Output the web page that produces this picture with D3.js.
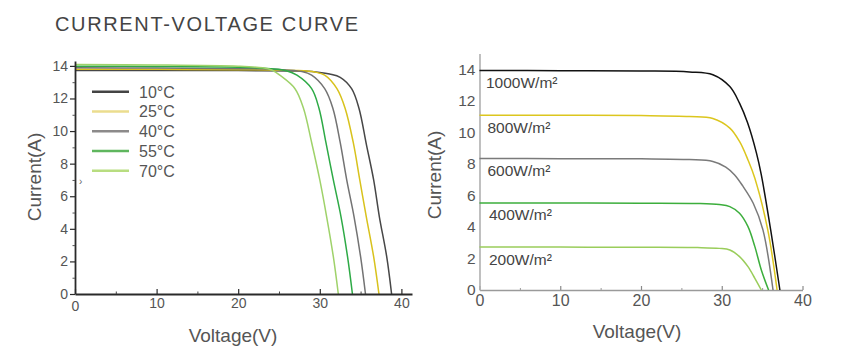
<!DOCTYPE html>
<html><head><meta charset="utf-8">
<script src="https://cdn.jsdelivr.net/npm/d3@7/dist/d3.min.js"></script>
<style>
body{margin:0;background:#fff}
svg{display:block}
text{font-family:"Liberation Sans",Arial,Helvetica,sans-serif}
</style>
</head><body>
<svg id="chart" width="843" height="348"></svg>
<script>
// ---------- DATA ----------
const titleText = "CURRENT-VOLTAGE CURVE";

// Left chart: temperature series, [Voltage V, Current A]
const tempNames = ["10°C", "25°C", "40°C", "55°C", "70°C"];
const temp10 = [[0,13.72],[10,13.72],[20,13.71],[28,13.68],[30,13.6],[31.2,13.5],[32.5,13.3],[33.9,12.6],[34.8,11.4],[35.7,9.2],[36.6,7.0],[37.3,4.74],[38.2,2.29],[38.8,0]];
const temp25 = [[0,13.8],[10,13.79],[20,13.77],[27,13.72],[29.4,13.62],[30.6,13.43],[32.1,12.6],[33.1,11.4],[34.1,9.3],[34.9,7.0],[35.7,4.74],[36.6,2.29],[37.25,0]];
const temp40 = [[0,13.88],[10,13.87],[20,13.83],[25,13.78],[27.8,13.65],[29.0,13.43],[30.6,12.6],[31.6,11.4],[32.5,9.3],[33.3,7.0],[34.2,4.74],[35.0,2.29],[35.6,0]];
const temp55 = [[0,13.98],[10,13.97],[20,13.92],[24,13.82],[25.9,13.7],[27.2,13.43],[29.0,12.6],[29.9,11.4],[30.75,9.3],[31.66,7.0],[32.6,4.74],[33.4,2.29],[34.0,0]];
const temp70 = [[0,14.08],[10,14.06],[20,13.98],[23,13.88],[24.1,13.75],[25.1,13.43],[26.96,12.6],[28.0,11.4],[29.0,9.3],[30.0,7.0],[30.84,4.74],[31.66,2.29],[32.27,0]];
const tempSeries = [temp10, temp25, temp40, temp55, temp70];

// Right chart: irradiance series, [Voltage V, Current A]
const irrNames = ["1000W/m²", "800W/m²", "600W/m²", "400W/m²", "200W/m²"];
const irr1000 = [[0,13.92],[10,13.91],[20,13.89],[26,13.83],[28.9,13.65],[31,12.9],[32.2,11.85],[33.2,10.6],[34.3,8.68],[34.9,7.3],[36.06,3.81],[37.2,0]];
const irr800 = [[0,11.09],[10,11.08],[20,11.06],[26,11.0],[28.9,10.88],[31,10.27],[32.2,9.42],[33.25,8.25],[34.1,7.09],[35.7,3.81],[36.85,0]];
const irr600 = [[0,8.34],[10,8.33],[20,8.32],[26,8.27],[28.9,8.15],[30.5,7.8],[31.6,7.3],[32.6,6.6],[33.9,5.5],[35.1,3.81],[36.35,0]];
const irr400 = [[0,5.52],[10,5.52],[20,5.51],[27,5.49],[29.7,5.42],[31,5.29],[32.2,4.87],[33.25,4.02],[34.1,2.75],[34.9,1.27],[35.8,0]];
const irr200 = [[0,2.72],[10,2.72],[20,2.71],[27,2.69],[29.7,2.64],[31,2.54],[32.2,2.12],[33.25,1.48],[34.1,0.74],[34.9,0]];
const irrSeries = [irr1000, irr800, irr600, irr400, irr200];

const xTicks = [0, 10, 20, 30, 40];
const xMinorTicks = [5, 15, 25, 35];
const yTicks = [0, 2, 4, 6, 8, 10, 12, 14];
const yMinorTicks = [1, 3, 5, 7, 9, 11, 13];
const xLabel = "Voltage(V)";
const yLabel = "Current(A)";

// ---------- STYLE ----------
const tempColors = ["#474747", "#d8c21c", "#737373", "#2eaa46", "#9fd26a"];
const tempLegendColors = ["#444444", "#ebdd8e", "#8c8a8a", "#5fb65e", "#b8dd80"];
const irrColors = ["#111111", "#dcc61e", "#7a7a7a", "#3cae3c", "#9acd5b"];

const svg = d3.select("#chart");

svg.append("text")
  .attr("x", 55).attr("y", 30.5)
  .attr("font-size", 20).attr("fill", "#444")
  .attr("letter-spacing", "1.65px")
  .text(titleText);

const smooth = d3.curveCatmullRom.alpha(0.5);

// ---------- LEFT CHART ----------
const xL = d3.scaleLinear().domain([0, 41.3]).range([75, 412]);
const yL = d3.scaleLinear().domain([0, 14.3]).range([294, 61]);
const gL = svg.append("g");

const lineL = d3.line().x(d => xL(d[0])).y(d => yL(d[1])).curve(smooth);
gL.selectAll("path.temp").data(tempSeries).join("path")
  .attr("class", "temp")
  .attr("d", lineL)
  .attr("fill", "none")
  .attr("stroke", (d, i) => tempColors[i])
  .attr("stroke-width", 1.5);

const axL = gL.append("g").attr("transform", "translate(0,294)")
  .call(d3.axisBottom(xL).tickValues(xTicks).tickSize(-5).tickSizeOuter(0).tickPadding(4));
axL.select(".domain").attr("stroke", "#2a2a2a").attr("stroke-width", 1.8);
axL.selectAll(".tick line").attr("stroke", "#2a2a2a").attr("stroke-width", 1.2);
axL.selectAll(".tick text").attr("font-size", 14).attr("fill", "#555")
  .attr("font-family", "Liberation Sans, Arial, sans-serif")
  .attr("dy", d => d === 0 ? "0.95em" : "0.71em");
const axLm = gL.append("g").attr("transform", "translate(0,294)")
  .call(d3.axisBottom(xL).tickValues(xMinorTicks).tickSize(-2.5).tickFormat(""));
axLm.select(".domain").remove();
axLm.selectAll(".tick line").attr("stroke", "#444");

const ayL = gL.append("g").attr("transform", "translate(75,0)")
  .call(d3.axisLeft(yL).tickValues(yTicks).tickSize(5).tickSizeOuter(0).tickPadding(2));
ayL.select(".domain").attr("stroke", "#2a2a2a").attr("stroke-width", 1.8);
ayL.selectAll(".tick line").attr("stroke", "#2a2a2a").attr("stroke-width", 1.2);
ayL.selectAll(".tick text").attr("font-size", 14).attr("fill", "#555")
  .attr("font-family", "Liberation Sans, Arial, sans-serif");
const ayLm = gL.append("g").attr("transform", "translate(75,0)")
  .call(d3.axisLeft(yL).tickValues(yMinorTicks).tickSize(2.5).tickFormat(""));
ayLm.select(".domain").remove();
ayLm.selectAll(".tick line").attr("stroke", "#555");

gL.append("text").attr("x", 79).attr("y", 185)
  .attr("font-size", 10).attr("fill", "#666").text("›");

gL.append("text").attr("x", 233).attr("y", 342)
  .attr("text-anchor", "middle").attr("font-size", 19).attr("fill", "#555")
  .text(xLabel);
gL.append("text").attr("transform", "translate(40.5,177) rotate(-90)")
  .attr("text-anchor", "middle").attr("font-size", 19).attr("fill", "#555")
  .text(yLabel);

// legend
const legY = d3.scaleLinear().domain([0, 4]).range([91.7, 170.7]);
const leg = gL.selectAll("g.leg").data(tempNames).join("g")
  .attr("class", "leg")
  .attr("transform", (d, i) => `translate(0,${legY(i)})`);
leg.append("line").attr("x1", 92).attr("x2", 129)
  .attr("stroke", (d, i) => tempLegendColors[i]).attr("stroke-width", 2.6);
leg.append("text").attr("x", 139).attr("y", 6)
  .attr("font-size", 16).attr("fill", "#555").text(d => d);

// ---------- RIGHT CHART ----------
const xR = d3.scaleLinear().domain([0, 40]).range([479.5, 802.5]);
const yR = d3.scaleLinear().domain([0, 15]).range([290, 53.5]);
const gR = svg.append("g");

const axR = gR.append("g").attr("transform", "translate(0,290)")
  .call(d3.axisBottom(xR).tickValues(xTicks).tickSize(-4).tickSizeOuter(0).tickPadding(5));
axR.select(".domain").attr("stroke", "#9a9a9a").attr("stroke-width", 1.6);
axR.selectAll(".tick line").attr("stroke", "#8a8a8a").attr("stroke-width", 1.2);
axR.selectAll(".tick text").attr("font-size", 16).attr("fill", "#555")
  .attr("font-family", "Liberation Sans, Arial, sans-serif");
const axRm = gR.append("g").attr("transform", "translate(0,290)")
  .call(d3.axisBottom(xR).tickValues(xMinorTicks).tickSize(-2).tickFormat(""));
axRm.select(".domain").remove();
axRm.selectAll(".tick line").attr("stroke", "#9a9a9a");

const ayR = gR.append("g").attr("transform", "translate(479.5,0)")
  .call(d3.axisLeft(yR).tickValues(yTicks).tickSize(0).tickSizeOuter(0).tickPadding(4));
ayR.select(".domain").attr("stroke", "#b0b0b0").attr("stroke-width", 1.6);
ayR.selectAll(".tick text").attr("font-size", 15.5).attr("fill", "#555")
  .attr("font-family", "Liberation Sans, Arial, sans-serif");

const lineR = d3.line().x(d => xR(d[0])).y(d => yR(d[1])).curve(smooth);
gR.selectAll("path.irr").data(irrSeries).join("path")
  .attr("class", "irr")
  .attr("d", lineR)
  .attr("fill", "none")
  .attr("stroke", (d, i) => irrColors[i])
  .attr("stroke-width", 1.5);

gR.selectAll("text.irrlab").data(irrSeries).join("text")
  .attr("class", "irrlab")
  .attr("x", (d, i) => xR(0) + (i === 0 ? 6.5 : i < 3 ? 8 : 9.5))
  .attr("y", d => yR(d[0][1]) + 17.5)
  .attr("font-size", 15.5).attr("fill", "#444")
  .text((d, i) => irrNames[i]);

gR.append("text").attr("x", 637).attr("y", 337.5)
  .attr("text-anchor", "middle").attr("font-size", 19).attr("fill", "#555")
  .text(xLabel);
gR.append("text").attr("transform", "translate(441,175) rotate(-90)")
  .attr("text-anchor", "middle").attr("font-size", 19).attr("fill", "#555")
  .text(yLabel);
</script>
</body></html>
